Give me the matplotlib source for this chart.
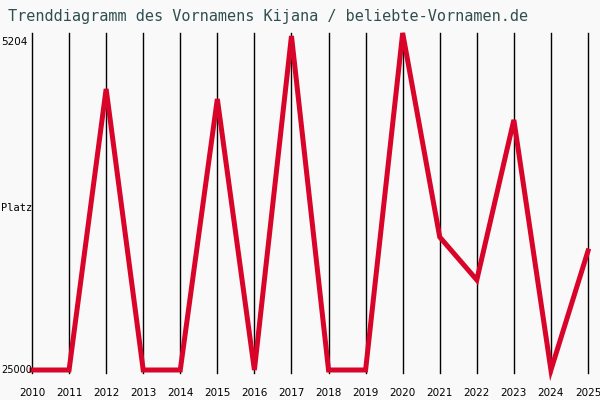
import matplotlib
matplotlib.use('Agg')
import matplotlib.pyplot as plt
import matplotlib.transforms as mtransforms

# Rangplatz des Vornamens pro Jahr (kleiner = beliebter)
years = [2010, 2011, 2012, 2013, 2014, 2015, 2016, 2017,
         2018, 2019, 2020, 2021, 2022, 2023, 2024, 2025]
ranks = [25000, 25000, 8490, 25000, 25000, 9080, 25000, 5380,
         25000, 25000, 5204, 17190, 19710, 10310, 25000, 18010]
best_rank = 5204
worst_rank = 25000

bg = '#f9f9f9'
red = '#d90429'

fig = plt.figure(figsize=(6, 4), dpi=100, facecolor=bg)
ax = fig.add_axes([32 / 600, 1 - 373 / 400, 556 / 600, 340 / 400])
ax.set_facecolor(bg)

for y in years:
    ax.axvline(y, color='black', linewidth=1.0, zorder=1, clip_on=False)

ax.plot(years, ranks, color=red, linewidth=3.6, solid_joinstyle='miter',
        zorder=3, clip_on=False)

ax.set_xlim(years[0], years[-1])
ax.set_ylim(worst_rank + 3 * 58.74, best_rank)

for s in ax.spines.values():
    s.set_visible(False)

ax.set_xticks(years)
ax.set_xticklabels([str(y) for y in years], fontsize=7.5, family='DejaVu Sans')
ax.tick_params(axis='x', length=0, pad=11)
ax.set_yticks([])

# Beschriftung links
trans = mtransforms.blended_transform_factory(fig.transFigure, ax.transData)
offset = mtransforms.offset_copy(trans, fig=fig, y=-3, units='points')
ax.text(1 / 600, best_rank, str(best_rank), transform=offset, ha='left', va='top',
        fontsize=7.5, family='DejaVu Sans')
ax.text(1 / 600, worst_rank, str(worst_rank), transform=trans, ha='left', va='center',
        fontsize=7, family='DejaVu Sans')
fig.text(1 / 600, 1 - 208 / 400, 'Platz', ha='left', va='center',
         fontsize=7.5, family='DejaVu Sans Mono')

fig.text(8 / 600, 1 - 17 / 400, 'Trenddiagramm des Vornamens Kijana / beliebte-Vornamen.de',
         ha='left', va='center', fontsize=11, family='DejaVu Sans Mono', color='#2f4f4f')

fig.savefig('out.png', dpi=100, facecolor=bg)
